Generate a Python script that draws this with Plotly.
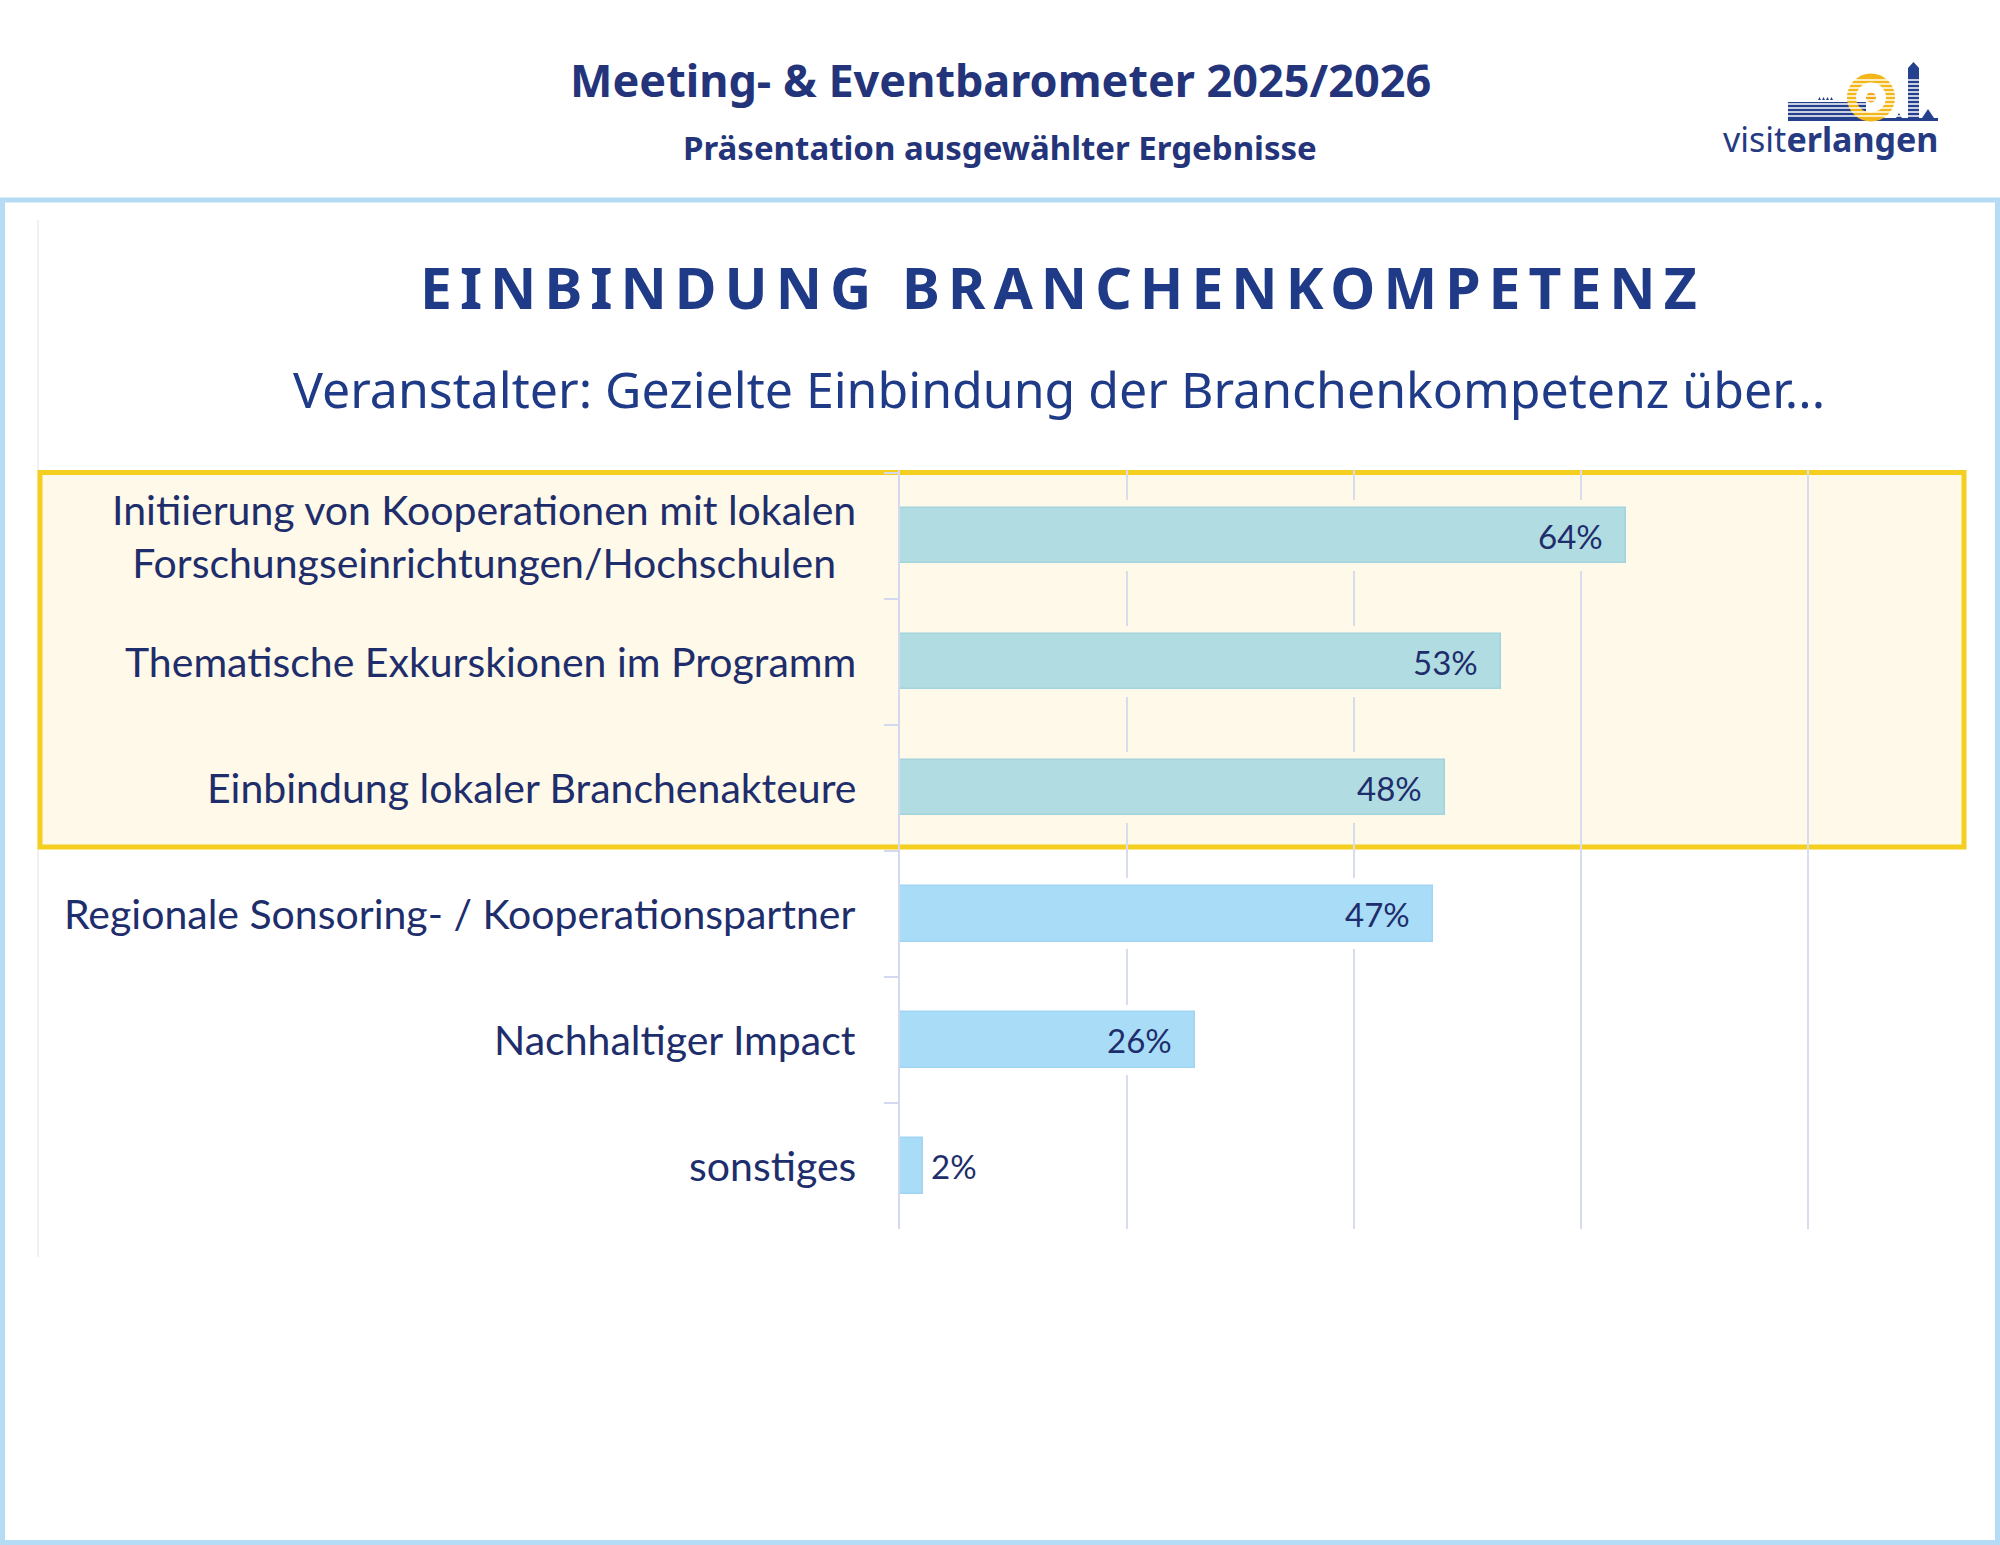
import plotly.graph_objects as go

# --- data -------------------------------------------------------------
categories = [
    "Initiierung von Kooperationen mit lokalen<br>Forschungseinrichtungen/Hochschulen",
    "Thematische Exkurskionen im Programm",
    "Einbindung lokaler Branchenakteure",
    "Regionale Sonsoring- / Kooperationspartner",
    "Nachhaltiger Impact",
    "sonstiges",
]
values = [64, 53, 48, 47, 26, 2]
value_labels = ["64%", "53%", "48%", "47%", "26%", "2%"]
highlighted = [True, True, True, False, False, False]

header_title = "Meeting- & Eventbarometer 2025/2026"
header_sub = "Präsentation ausgewählter Ergebnisse"
chart_title = "EINBINDUNG BRANCHENKOMPETENZ"
chart_sub = "Veranstalter: Gezielte Einbindung der Branchenkompetenz über..."

# --- page geometry (pixels) ------------------------------------------
W, H = 2000, 1545
L, R, T, B = 900, 1921, 470, 1229

NAVY = "#1e2d6b"
TITLE_NAVY = "#1f3a86"
CREAM = "#fef9e8"
GOLD = "#f4cf1f"
FRAME = "#b6dcf5"
GRID = "#d7dcee"


def px(x):
    return (x - L) / (R - L)


def py(y):
    return (B - y) / (B - T)


bar_colors = ["#b1dce2" if h else "#a9dcf7" for h in highlighted]
bar_edges = ["#a3d3dc" if h else "#9fd5f2" for h in highlighted]
halo_colors = [CREAM if h else "white" for h in highlighted]

fig = go.Figure()

# background-coloured halo behind each bar (breaks the grid lines)
fig.add_trace(go.Bar(
    x=values, y=categories, orientation="h", width=0.56,
    marker=dict(color=halo_colors, line=dict(width=0)),
    hoverinfo="skip", showlegend=False,
))
fig.add_trace(go.Bar(
    x=values, y=categories, orientation="h", width=0.44,
    marker=dict(color=bar_colors, line=dict(color=bar_edges, width=1.5)),
    hovertemplate="%{y}: %{x}%<extra></extra>", showlegend=False,
))

annotations = []
# category labels (centered lines, right-aligned block)
for cat in categories:
    annotations.append(dict(
        text=cat, x=px(858), xref="paper", y=cat, yref="y",
        xanchor="right", yanchor="middle", align="center", showarrow=False,
        font=dict(family="Lato, sans-serif", size=41, color=NAVY),
    ))
# value labels
for cat, v, lab in zip(categories, values, value_labels):
    inside = v >= 10
    annotations.append(dict(
        text=lab, x=v, xref="x", y=cat, yref="y",
        xanchor="right" if inside else "left", xshift=-21 if inside else 6,
        yanchor="middle", showarrow=False,
        font=dict(family="Lato, sans-serif", size=33, color=NAVY),
    ))

# headers
annotations += [
    dict(text="<b>" + header_title + "</b>", x=px(1000), y=py(79),
         font=dict(family="Noto Sans, sans-serif", size=45, color="#24347a")),
    dict(text="<b>" + header_sub + "</b>", x=px(1000), y=py(147),
         font=dict(family="Noto Sans, sans-serif", size=33, color="#24347a")),
    dict(text='<span style="letter-spacing:8px"><b>' + chart_title + "</b></span>",
         x=px(1062), y=py(287),
         font=dict(family="Noto Sans, sans-serif", size=57, color=TITLE_NAVY)),
    dict(text=chart_sub, x=px(1059), y=py(389),
         font=dict(family="Noto Sans, sans-serif", size=50, color=TITLE_NAVY)),
    dict(text="visit<b>erlangen</b>", x=px(1830), y=py(139),
         font=dict(family="Noto Sans, sans-serif", size=34, color="#263a82")),
]
for a in annotations[-5:]:
    a.update(xref="paper", yref="paper", xanchor="center", yanchor="middle",
             showarrow=False)

shapes = [
    # page frame
    dict(type="rect", xref="paper", yref="paper", layer="below",
         x0=px(2.5), x1=px(1997.5), y0=py(200), y1=py(1542.5),
         line=dict(color=FRAME, width=5)),
    # inner container edge
    dict(type="line", xref="paper", yref="paper", layer="below",
         x0=px(38), x1=px(38), y0=py(220), y1=py(1257),
         line=dict(color="#ececec", width=1.5)),
    # highlight box around first three answers
    dict(type="rect", xref="paper", yref="y", layer="below",
         x0=px(40), x1=px(1964), y0=-0.5, y1=2.47,
         fillcolor=CREAM, line=dict(color=GOLD, width=5)),
]

# logo: blue hill, base line, tower, gold sun
NB = "#25418e"
shapes += [
    dict(type="rect", xref="paper", yref="paper", x0=px(1788), x1=px(1866),
         y0=py(102), y1=py(118), fillcolor=NB, line=dict(width=0)),
    dict(type="rect", xref="paper", yref="paper", x0=px(1788), x1=px(1938),
         y0=py(118), y1=py(121), fillcolor=NB, line=dict(width=0)),
    dict(type="rect", xref="paper", yref="paper", x0=px(1908), x1=px(1919),
         y0=py(68), y1=py(118), fillcolor=NB, line=dict(width=0)),
    dict(type="path", xref="paper", yref="paper",
         path=f"M {px(1908)},{py(68)} L {px(1913.5)},{py(62)} L {px(1919)},{py(68)} Z",
         fillcolor=NB, line=dict(width=0)),
    dict(type="path", xref="paper", yref="paper",
         path=f"M {px(1922)},{py(118)} L {px(1928)},{py(109)} L {px(1934)},{py(118)} Z",
         fillcolor=NB, line=dict(width=0)),
    dict(type="path", xref="paper", yref="paper",
         path=f"M {px(1896)},{py(118)} L {px(1899)},{py(113)} L {px(1902)},{py(118)} Z",
         fillcolor=NB, line=dict(width=0)),
    dict(type="circle", xref="paper", yref="paper", x0=px(1851.5), x1=px(1890.5),
         y0=py(78), y1=py(117), line=dict(color="#f3b61b", width=9)),
    dict(type="circle", xref="paper", yref="paper", x0=px(1866), x1=px(1876),
         y0=py(92.5), y1=py(102.5), fillcolor="#f2a81d", line=dict(width=0)),
]
for sy in range(80, 118, 4):
    shapes.append(dict(type="line", xref="paper", yref="paper",
                       x0=px(1786), x1=px(1921), y0=py(sy), y1=py(sy),
                       line=dict(color="white", width=1.3)))
for tx in range(1818, 1834, 4):
    shapes.append(dict(type="path", xref="paper", yref="paper",
                       path=f"M {px(tx)},{py(100)} L {px(tx+1.5)},{py(97)} L {px(tx+3)},{py(100)} Z",
                       fillcolor=NB, line=dict(width=0)))

fig.update_layout(
    width=W, height=H,
    margin=dict(l=L, r=W - R, t=T, b=H - B, pad=0),
    paper_bgcolor="white", plot_bgcolor="rgba(0,0,0,0)",
    barmode="overlay", bargap=0,
    showlegend=False,
    annotations=annotations, shapes=shapes,
    xaxis=dict(range=[0, 90], dtick=20, showgrid=True, gridcolor=GRID,
               gridwidth=2, zeroline=False, showticklabels=False,
               ticks="", showline=False, fixedrange=True),
    yaxis=dict(type="category", categoryorder="array", categoryarray=categories,
               autorange="reversed", showticklabels=False, showgrid=False,
               showline=True, linecolor="#d3d9ee", linewidth=2,
               ticks="outside", tickson="boundaries", ticklen=14,
               tickcolor="#d3d9ee", tickwidth=2, fixedrange=True),
)

fig.write_html("out.html", config={"displayModeBar": False},
               post_script="document.body.style.margin='0';")
